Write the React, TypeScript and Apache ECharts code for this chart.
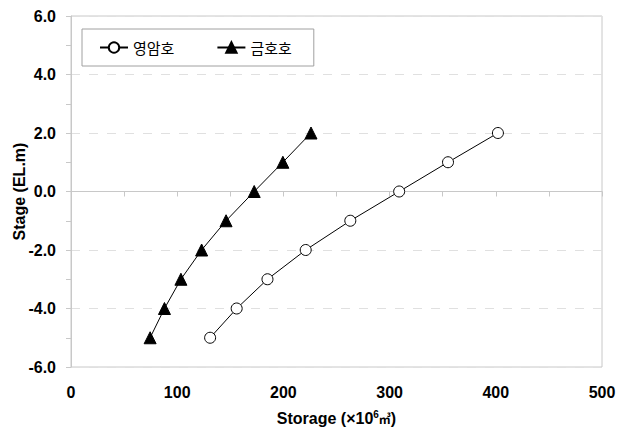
import React, { useEffect, useRef } from "react";
import * as echarts from "echarts";

const stages = [-5, -4, -3, -2, -1, 0, 1, 2];
const youngamStorage = [131, 156, 185, 221, 263, 309, 355, 402];
const geumhoStorage = [74.5, 88, 103.5, 123, 146, 172.5, 199.5, 226];
const seriesNames = ["영암호", "금호호"];

export default function App() {
  const ref = useRef<HTMLDivElement>(null);
  useEffect(() => {
    const chart = echarts.init(ref.current!, null, { renderer: "svg" });
    const labelFont = "'Liberation Sans', Arial, sans-serif";
    chart.setOption({
      animation: false,
      backgroundColor: "#ffffff",
      grid: {
        left: 71,
        right: 24,
        top: 16,
        bottom: 63,
        show: true,
        borderColor: "#c8c8c8",
        borderWidth: 1,
        containLabel: false,
        outerBoundsMode: "none",
      },
      legend: {
        left: 82,
        top: 29,
        orient: "horizontal",
        padding: [11, 22, 11, 17],
        itemGap: 42,
        itemWidth: 28,
        itemHeight: 13,
        borderColor: "#a0a0a0",
        borderWidth: 1,
        backgroundColor: "#ffffff",
        textStyle: {
          fontFamily: "'Noto Sans CJK KR', sans-serif",
          fontSize: 15,
          color: "#000",
        },
        data: seriesNames,
      },
      xAxis: {
        type: "value",
        min: 0,
        max: 500,
        interval: 100,
        name: "Storage (×10{sup|6}{u|㎥})",
        nameLocation: "middle",
        nameGap: 42,
        nameMoveOverlap: false,
        nameTextStyle: {
          fontFamily: labelFont,
          fontWeight: "bold",
          fontSize: 16,
          color: "#000",
          rich: {
            sup: {
              fontFamily: labelFont,
              fontWeight: "bold",
              fontSize: 10,
              verticalAlign: "top",
              padding: [0, 0, 8, 0],
              color: "#000",
            },
            u: {
              fontFamily: "'Noto Sans CJK KR', sans-serif",
              fontSize: 12,
              color: "#000",
            },
          },
        },
        axisLine: { show: true, lineStyle: { color: "#c8c8c8", width: 1 } },
        axisTick: { show: true, length: 5, lineStyle: { color: "#c8c8c8" } },
        minorTick: { show: true, splitNumber: 2, length: 5, lineStyle: { color: "#c8c8c8" } },
        splitLine: { show: false },
        axisLabel: {
          margin: 17,
          fontFamily: labelFont,
          fontWeight: "bold",
          fontSize: 16,
          color: "#000",
        },
      },
      yAxis: {
        type: "value",
        min: -6,
        max: 6,
        interval: 2,
        name: "Stage (EL.m)",
        nameLocation: "middle",
        nameGap: 44,
        nameMoveOverlap: false,
        nameTextStyle: {
          fontFamily: labelFont,
          fontWeight: "bold",
          fontSize: 16,
          color: "#000",
        },
        axisLine: { show: true, lineStyle: { color: "#c8c8c8", width: 1 } },
        axisTick: { show: true, length: 5, lineStyle: { color: "#c8c8c8" } },
        minorTick: { show: true, splitNumber: 2, length: 5, lineStyle: { color: "#c8c8c8" } },
        splitLine: {
          show: true,
          lineStyle: { color: "#e0e0e0", type: [9, 9], width: 1 },
        },
        axisLabel: {
          margin: 15,
          fontFamily: labelFont,
          fontWeight: "bold",
          fontSize: 16,
          color: "#000",
          formatter: (v: number) => v.toFixed(1),
        },
      },
      series: [
        {
          name: seriesNames[0],
          type: "line",
          data: youngamStorage.map((s, i) => [s, stages[i]]),
          symbol: "circle",
          symbolSize: 11,
          showAllSymbol: true,
          lineStyle: { color: "#000", width: 1 },
          itemStyle: { color: "#ffffff", borderColor: "#000", borderWidth: 1 },
          z: 3,
        },
        {
          name: seriesNames[1],
          type: "line",
          data: geumhoStorage.map((s, i) => [s, stages[i]]),
          symbol: "triangle",
          symbolSize: 12,
          showAllSymbol: true,
          lineStyle: { color: "#000", width: 1 },
          itemStyle: { color: "#000", borderColor: "#000", borderWidth: 1 },
          z: 3,
        },
      ],
    });
    return () => chart.dispose();
  }, []);
  return <div ref={ref} style={{ width: 626, height: 430, position: "absolute", left: 0, top: 0 }} />;
}
